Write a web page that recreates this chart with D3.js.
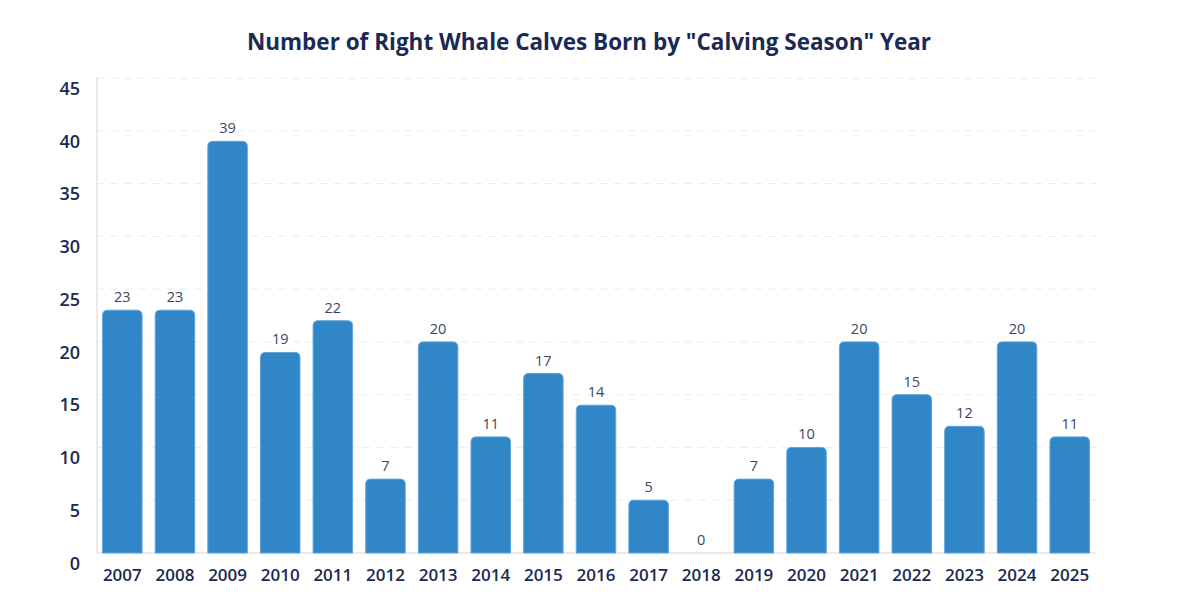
<!DOCTYPE html>
<html><head><meta charset="utf-8">
<script src="https://cdn.jsdelivr.net/npm/d3@7"></script>
<style>body{margin:0;background:#fff;} text{font-family:"Open Sans",sans-serif;}</style>
</head><body>
<svg id="c" width="1204" height="599"></svg>
<script>
const years = ["2007","2008","2009","2010","2011","2012","2013","2014","2015","2016","2017","2018","2019","2020","2021","2022","2023","2024","2025"];
const calves = [23,23,39,19,22,7,20,11,17,14,5,0,7,10,20,15,12,20,11];
const yTicks = [0,5,10,15,20,25,30,35,40,45];
const title = 'Number of Right Whale Calves Born by "Calving Season" Year';

(function(){
const svg = d3.select("#c");
const pL = 96, pR = 1096, pT = 78, pB = 553;
const x = d3.scaleBand().domain(years).range([pL, pR]).paddingInner(0.25).paddingOuter(0.125);
const y = d3.scaleLinear().domain([0,45]).range([pB, pT]);

svg.append("text").attr("x", 589).attr("y", 50).attr("text-anchor","middle")
  .attr("font-size", 22.5).attr("font-weight", 700).attr("fill","#1b2a52").text(title);

svg.append("g").selectAll("line").data(yTicks.filter(t=>t>0)).join("line")
  .attr("x1", pL).attr("x2", pR).attr("y1", d=>y(d)).attr("y2", d=>y(d))
  .attr("stroke","#ececec").attr("stroke-width",1).attr("stroke-dasharray","8,6");
svg.append("line").attr("x1",pL).attr("x2",pR).attr("y1",pB).attr("y2",pB).attr("stroke","#eaeaea").attr("stroke-width",2);
svg.append("line").attr("x1",pL+1).attr("x2",pL+1).attr("y1",pT).attr("y2",pB).attr("stroke","#eaeaea").attr("stroke-width",2);

const yAxis = d3.axisLeft(y).tickValues(yTicks).tickSize(0).tickPadding(0);
const gy = svg.append("g").attr("transform",`translate(80,10)`).call(yAxis);
gy.select(".domain").remove();
gy.selectAll("text").attr("font-size",18).attr("font-weight",600).attr("fill","#1b2a52").attr("font-family","Open Sans").attr("dy","0.35em");

const xAxis = d3.axisBottom(x).tickSize(0).tickPadding(0);
const gx = svg.append("g").attr("transform",`translate(0,${pB+16})`).call(xAxis);
gx.select(".domain").remove();
gx.selectAll("text").attr("font-size",17).attr("font-weight",600).attr("fill","#1b2a52").attr("font-family","Open Sans").attr("dy","0.71em");

const r = 5;
function barPath(d, i){
  const x0 = x(years[i]), w = x.bandwidth(), y0 = y(d), yb = y(0);
  const h = yb - y0;
  if (h <= 0) return "";
  const rr = Math.min(r, h, w/2);
  return `M${x0},${yb}V${y0+rr}Q${x0},${y0} ${x0+rr},${y0}H${x0+w-rr}Q${x0+w},${y0} ${x0+w},${y0+rr}V${yb}Z`;
}
svg.append("g").selectAll("path").data(calves).join("path")
  .attr("d", (d,i)=>barPath(d,i)).attr("fill","#3186c8").attr("stroke","#5fa3d9").attr("stroke-width",1);

svg.append("g").selectAll("text").data(calves).join("text")
  .attr("x",(d,i)=>x(years[i])+x.bandwidth()/2).attr("y", d=>y(d)-8)
  .attr("text-anchor","middle").attr("font-size",14.5).attr("fill","#3b4566").text(d=>d);
})();
</script>
</body></html>
